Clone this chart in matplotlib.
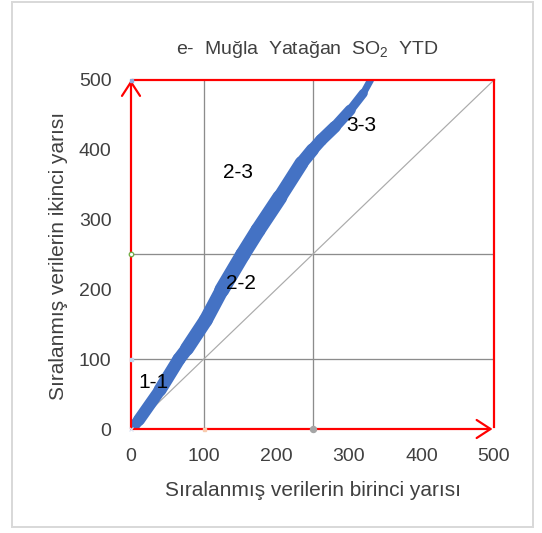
import matplotlib
matplotlib.use("Agg")
import matplotlib.pyplot as plt
from matplotlib.collections import LineCollection
from matplotlib.patches import Rectangle
import numpy as np

plt.rcParams['font.family'] = ['Liberation Sans', 'DejaVu Sans']
plt.rcParams['mathtext.fontset'] = 'custom'
plt.rcParams['mathtext.rm'] = 'Liberation Sans'

# Q-Q pairs: sorted first half of the record vs sorted second half
first_half = [2, 11, 40, 66, 77, 103, 125, 154, 175, 205, 235, 250, 262, 281, 302, 320, 330]
second_half = [2, 13, 56, 100, 115, 156, 199, 250, 285, 332, 381, 400, 414, 433, 457, 481, 500]

axis_max = 500
tick_values = [0, 100, 200, 300, 400, 500]
class_limits = [100, 250]

region_labels = ["1-1", "2-2", "2-3", "3-3"]
region_x = [31, 152, 147, 317]
region_y = [66, 208, 368, 435]

title = "e-  Muğla  Yatağan  SO$_\\mathregular{2}$  YTD"
x_label = "Sıralanmış verilerin birinci yarısı"
y_label = "Sıralanmış verilerin ikinci yarısı"

DPI = 100
W, H = 542, 533
px = 72.0 / DPI  # points per pixel

fig = plt.figure(figsize=(W / DPI, H / DPI), dpi=DPI)
fig.patch.set_facecolor("white")

# light frame around the whole chart
fig.add_artist(Rectangle((12 / W, 1 - 527 / H), (533 - 12) / W, (527 - 2) / H,
                         transform=fig.transFigure, fill=False,
                         edgecolor="#D9D9D9", linewidth=2 * px))

ax = fig.add_axes([131 / W, 1 - 429 / H, (494 - 131) / W, (429 - 80) / H])
ax.set_xlim(0, axis_max)
ax.set_ylim(0, axis_max)
for s in ax.spines.values():
    s.set_visible(False)

text_color = "#404040"
ax.set_xticks(tick_values)
ax.set_yticks(tick_values)
ax.tick_params(length=0, labelsize=14, colors=text_color, pad=14)
ax.tick_params(axis="y", pad=14)

# class-boundary grid lines
for v in class_limits:
    ax.plot([v, v], [0, axis_max], color="#8C8C8C", lw=1.3 * px, zorder=1)
    ax.plot([0, axis_max], [v, v], color="#8C8C8C", lw=1.3 * px, zorder=1)

# 1:1 reference line
ax.plot([0, axis_max], [0, axis_max], color="#ABABAB", lw=1.2 * px, zorder=1)

# quantile band
band_width_px = [11, 12, 13, 13, 14, 14, 15, 15, 15, 14, 13, 12, 12, 11, 9, 7]
pts = np.column_stack([first_half, second_half])
segs = np.stack([pts[:-1], pts[1:]], axis=1)
lc = LineCollection(segs, colors="#4472C4", linewidths=[w * px for w in band_width_px],
                    capstyle="round", joinstyle="round", zorder=3)
ax.add_collection(lc)

# red frame with axis arrows
red = "#FF0000"
lw_red = 2.2 * px
ax.plot([3, axis_max], [axis_max, axis_max], color=red, lw=lw_red, zorder=4, clip_on=False)
ax.plot([axis_max, axis_max], [axis_max, 3], color=red, lw=lw_red, zorder=4, clip_on=False)
arrow = dict(arrowstyle="->,head_length=1.0,head_width=0.65", color=red, lw=lw_red,
             shrinkA=0, shrinkB=0, mutation_scale=10)
ax.annotate("", xy=(0, axis_max), xytext=(0, 0), arrowprops=arrow, zorder=4,
            annotation_clip=False)
ax.annotate("", xy=(axis_max - 2, 0), xytext=(0, 0), arrowprops=arrow, zorder=4,
            annotation_clip=False)

# small series markers on the frame
ax.plot([0], [class_limits[1]], "o", ms=4.5 * px, mfc="white", mec="#70AD47", mew=1.3 * px,
        zorder=5, clip_on=False)
ax.plot([class_limits[1]], [0], "o", ms=6 * px, color="#A5A5A5", zorder=5, clip_on=False)
ax.plot([0], [class_limits[0]], "s", ms=3 * px, color="#BDD7EE", zorder=5, clip_on=False)
ax.plot([class_limits[0]], [0], "s", ms=3 * px, color="#F8CBAD", zorder=5, clip_on=False)
ax.plot([0], [axis_max], "s", ms=3 * px, color="#8FAADC", zorder=5, clip_on=False)
ax.plot([0], [0], "x", ms=5 * px, color="#DAE3F3", mew=1.2 * px, zorder=5, clip_on=False)

for lab, x, y in zip(region_labels, region_x, region_y):
    ax.text(x, y, lab, fontsize=15, color="#000000", ha="center", va="center", zorder=6)

fig.text(308 / W, 1 - 50 / H, title, fontsize=14, color=text_color, ha="center", va="center")
fig.text(313 / W, 1 - 491 / H, x_label, fontsize=15, color=text_color, ha="center", va="center")
fig.text(58 / W, 1 - 256 / H, y_label, fontsize=15, color=text_color, ha="center", va="center",
         rotation=90)

fig.savefig("out.png", dpi=DPI)
